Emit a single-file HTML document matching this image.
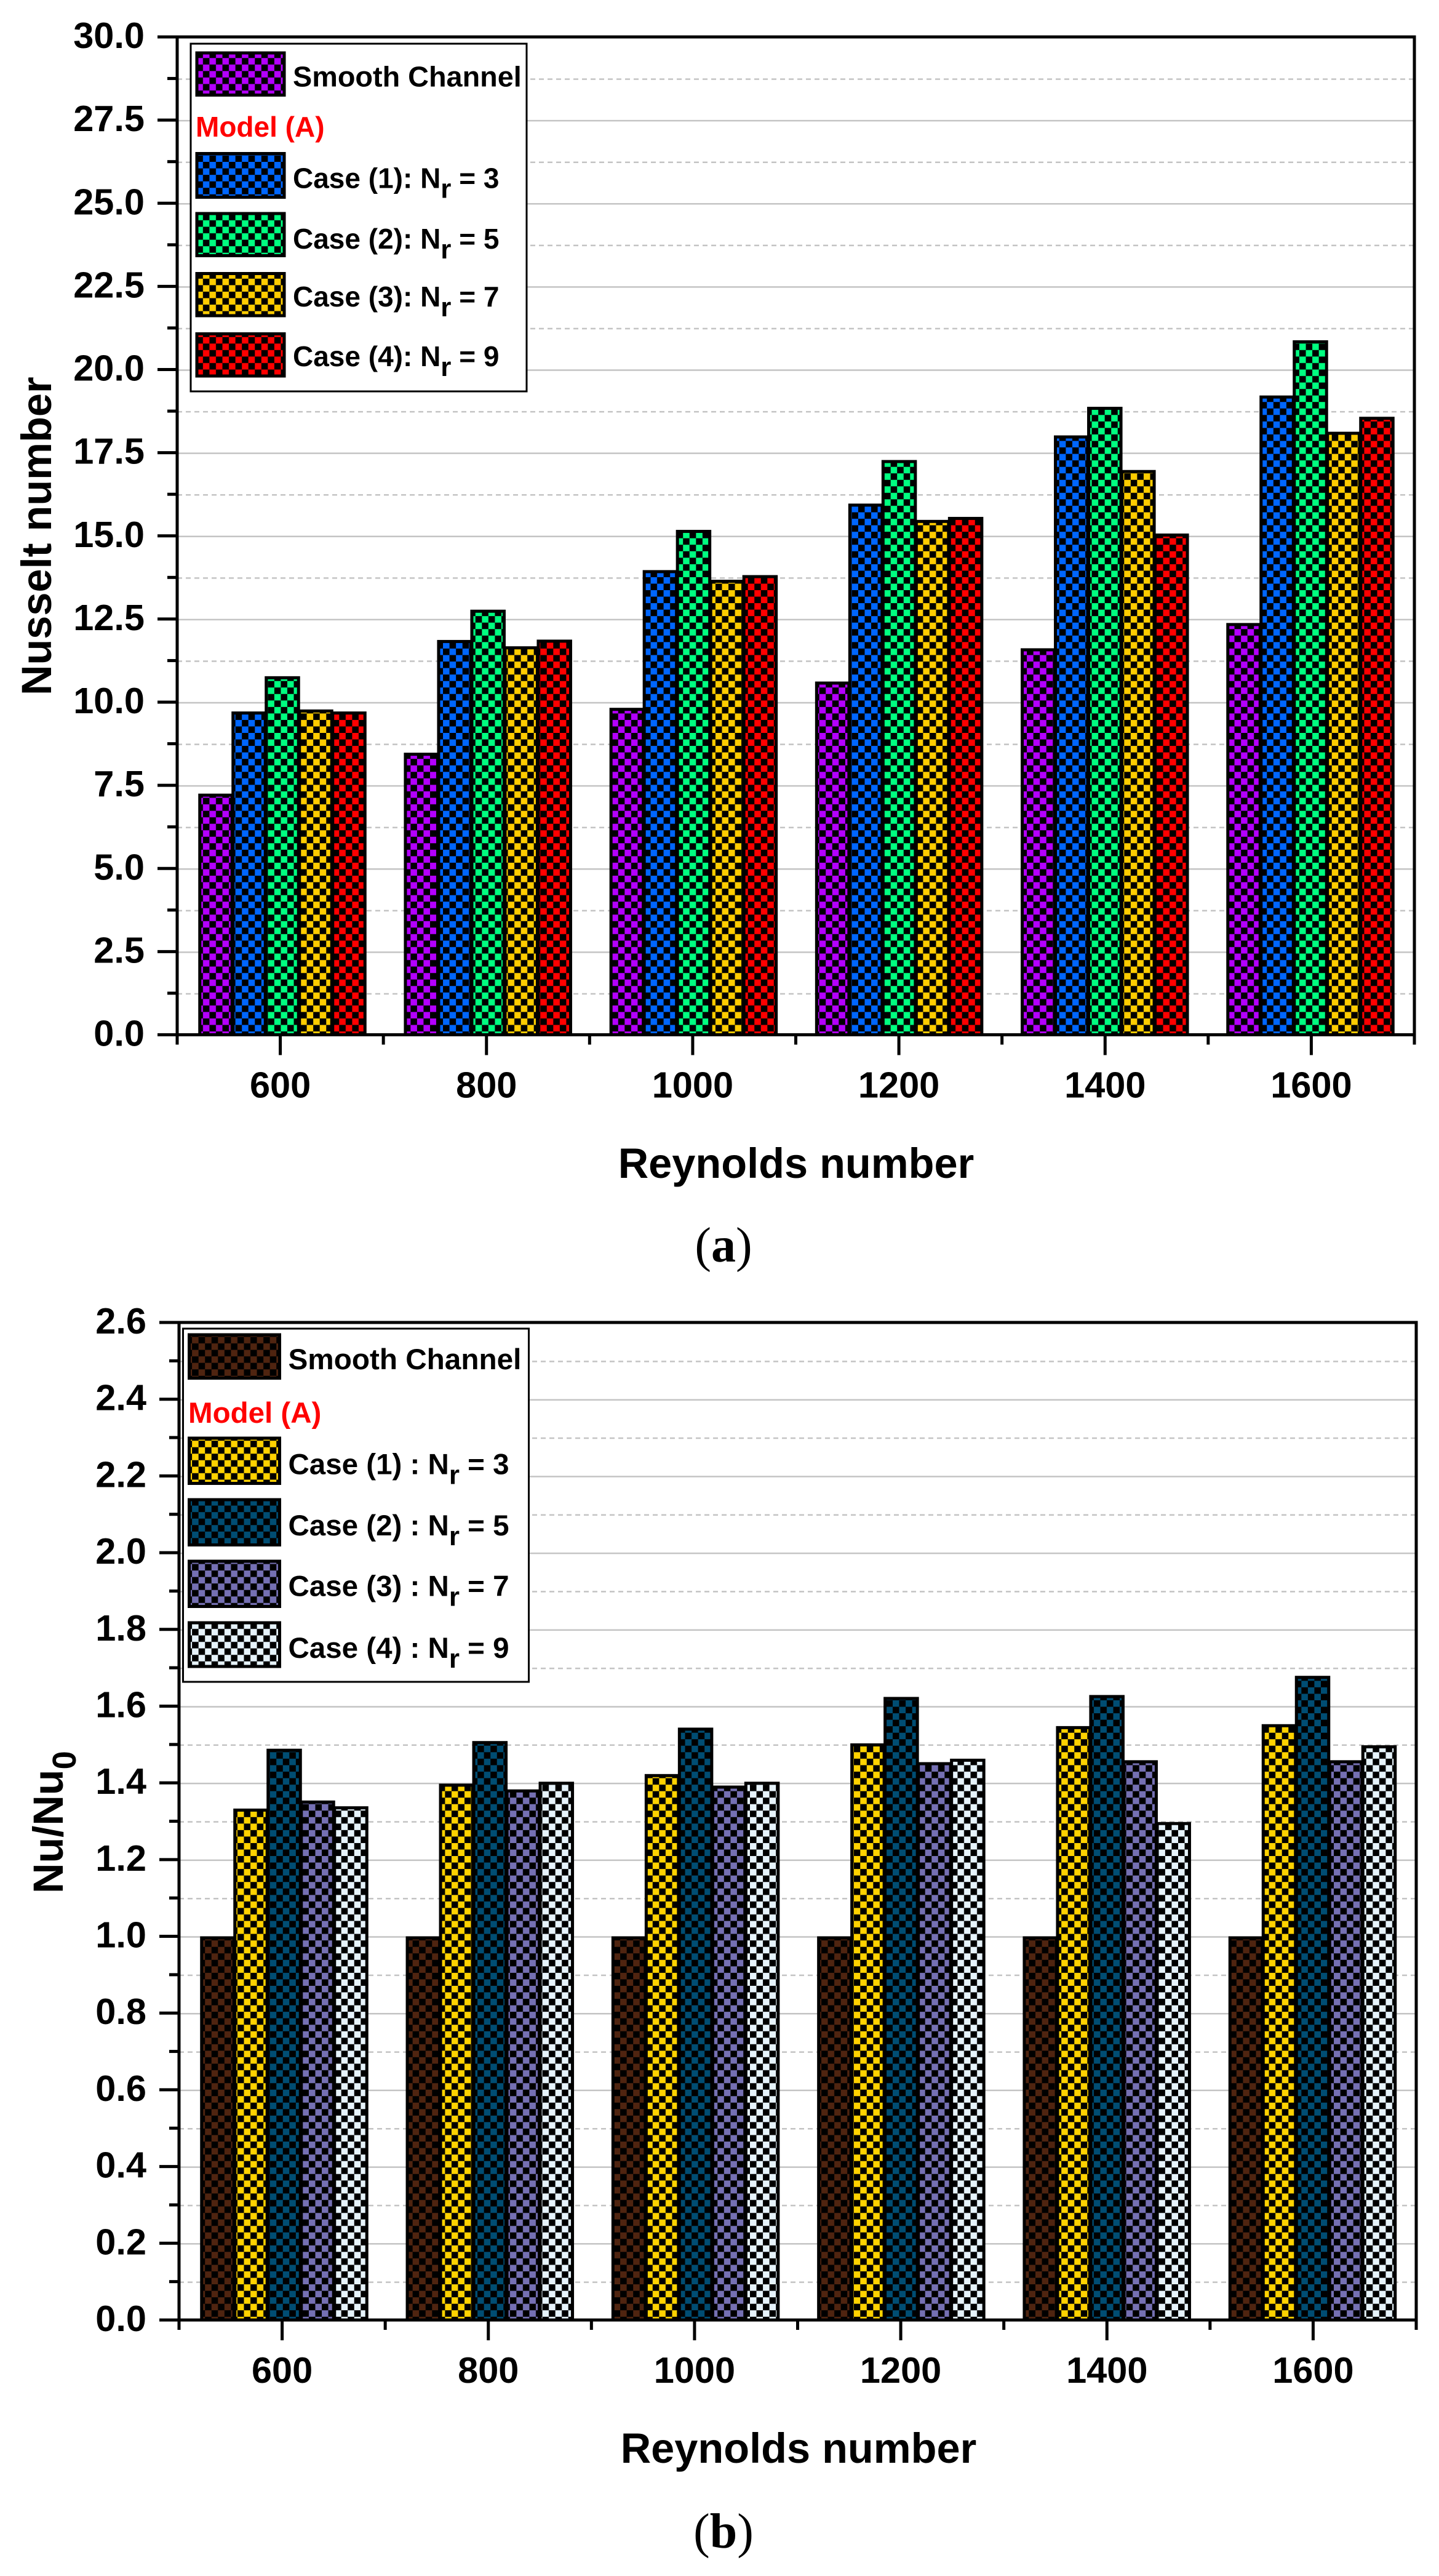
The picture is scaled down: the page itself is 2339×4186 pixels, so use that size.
<!DOCTYPE html>
<html lang="en">
<head>
<meta charset="utf-8">
<title>Nusselt number and Nu/Nu0 versus Reynolds number</title>
<style>
html,body{margin:0;padding:0;background:#fff;}
svg{display:block;}
text{font-family:"Liberation Sans",sans-serif;font-weight:bold;fill:#000;}
.panel-label{font-family:"Liberation Serif",serif;font-weight:normal;font-size:80px;}
.panel-label tspan{font-weight:bold;}
.tick{font-size:59.5px;}
.title{font-size:68.5px;}
</style>
</head>
<body>
<svg id="figure" xmlns="http://www.w3.org/2000/svg" width="2339" height="4186" viewBox="0 0 2339 4186">
  <defs id="defs"></defs>
  <rect width="2339" height="4186" fill="#fff"/>

  <g id="panel-a"></g>
  <g id="panel-b"></g>

  <g>
    <rect x="310" y="71" width="546" height="565" fill="#fff" stroke="#000" stroke-width="3"/>
    <g>
      <rect x="317.5" y="83.5" width="147" height="73.5" fill="#000"/>
      <rect x="322.5" y="88.5" width="137" height="63.5" fill="url(#pat-a-0)"/>
      <text x="476" y="140.5" font-size="46.8">Smooth Channel</text>
    </g>
    <text x="318" y="222" font-size="46" style="fill:#ff0000">Model (A)</text>
    <g>
      <rect x="317.5" y="247" width="147" height="76" fill="#000"/>
      <rect x="322.5" y="252" width="137" height="66" fill="url(#pat-a-1)"/>
      <text x="476" y="305.5" font-size="46">Case (1): N<tspan dy="16" font-size="44">r</tspan><tspan dy="-16"> = 3</tspan></text>
    </g>
    <g>
      <rect x="317.5" y="344.5" width="147" height="73.5" fill="#000"/>
      <rect x="322.5" y="349.5" width="137" height="63.5" fill="url(#pat-a-2)"/>
      <text x="476" y="404" font-size="46">Case (2): N<tspan dy="16" font-size="44">r</tspan><tspan dy="-16"> = 5</tspan></text>
    </g>
    <g>
      <rect x="317.5" y="442" width="147" height="73.5" fill="#000"/>
      <rect x="322.5" y="447" width="137" height="63.5" fill="url(#pat-a-3)"/>
      <text x="476" y="498" font-size="46">Case (3): N<tspan dy="16" font-size="44">r</tspan><tspan dy="-16"> = 7</tspan></text>
    </g>
    <g>
      <rect x="317.5" y="540" width="147" height="73.5" fill="#000"/>
      <rect x="322.5" y="545" width="137" height="63.5" fill="url(#pat-a-4)"/>
      <text x="476" y="595" font-size="46">Case (4): N<tspan dy="16" font-size="44">r</tspan><tspan dy="-16"> = 9</tspan></text>
    </g>
  </g>

  <g>
    <rect x="297.5" y="2159" width="562" height="574" fill="#fff" stroke="#000" stroke-width="3"/>
    <g>
      <rect x="305" y="2166.5" width="152" height="75.5" fill="#000"/>
      <rect x="310" y="2171.5" width="142" height="65.5" fill="url(#pat-b-0)"/>
      <text x="468.5" y="2225" font-size="47.7">Smooth Channel</text>
    </g>
    <text x="306" y="2312" font-size="47.5" style="fill:#ff0000">Model (A)</text>
    <g>
      <rect x="305" y="2334.5" width="152" height="78.5" fill="#000"/>
      <rect x="310" y="2339.5" width="142" height="68.5" fill="url(#pat-b-1)"/>
      <text x="468.5" y="2395.5" font-size="47.5">Case (1) : N<tspan dy="16" font-size="44">r</tspan><tspan dy="-16"> = 3</tspan></text>
    </g>
    <g>
      <rect x="305" y="2434.5" width="152" height="78.5" fill="#000"/>
      <rect x="310" y="2439.5" width="142" height="68.5" fill="url(#pat-b-2)"/>
      <text x="468.5" y="2495" font-size="47.5">Case (2) : N<tspan dy="16" font-size="44">r</tspan><tspan dy="-16"> = 5</tspan></text>
    </g>
    <g>
      <rect x="305" y="2534.5" width="152" height="78.5" fill="#000"/>
      <rect x="310" y="2539.5" width="142" height="68.5" fill="url(#pat-b-3)"/>
      <text x="468.5" y="2593.5" font-size="47.5">Case (3) : N<tspan dy="16" font-size="44">r</tspan><tspan dy="-16"> = 7</tspan></text>
    </g>
    <g>
      <rect x="305" y="2634.5" width="152" height="76" fill="#000"/>
      <rect x="310" y="2639.5" width="142" height="66" fill="url(#pat-b-4)"/>
      <text x="468.5" y="2694" font-size="47.5">Case (4) : N<tspan dy="16" font-size="44">r</tspan><tspan dy="-16"> = 9</tspan></text>
    </g>
  </g>

  <text class="title" transform="translate(83 1130) rotate(-90)">Nusselt number</text>
  <text class="title" x="1294" y="1914" text-anchor="middle">Reynolds number</text>
  <text class="panel-label" x="1176" y="2050" text-anchor="middle">(<tspan>a</tspan>)</text>

  <text class="title" transform="translate(102 3077) rotate(-90)">Nu/Nu<tspan dy="21" font-size="54">0</tspan></text>
  <text class="title" x="1298" y="4002" text-anchor="middle">Reynolds number</text>
  <text class="panel-label" x="1176" y="4140" text-anchor="middle">(<tspan>b</tspan>)</text>
</svg>

<script>
// ---- chart data ----
const reynoldsCategories = [600, 800, 1000, 1200, 1400, 1600];

const nusseltSmooth = [7.25, 8.48, 9.83, 10.62, 11.62, 12.38];
const nusseltCase1 = [9.72, 11.87, 13.97, 15.97, 18.02, 19.22];
const nusseltCase2 = [10.78, 12.78, 15.18, 17.28, 18.88, 20.88];
const nusseltCase3 = [9.78, 11.68, 13.68, 15.48, 16.98, 18.13];
const nusseltCase4 = [9.72, 11.88, 13.82, 15.57, 15.07, 18.58];

const ratioSmooth = [1.0, 1.0, 1.0, 1.0, 1.0, 1.0];
const ratioCase1 = [1.333, 1.398, 1.423, 1.503, 1.548, 1.553];
const ratioCase2 = [1.489, 1.509, 1.544, 1.624, 1.629, 1.679];
const ratioCase3 = [1.354, 1.383, 1.393, 1.454, 1.459, 1.459];
const ratioCase4 = [1.339, 1.403, 1.403, 1.463, 1.298, 1.498];

const nusseltTickLabels = ['0.0', '2.5', '5.0', '7.5', '10.0', '12.5', '15.0', '17.5', '20.0', '22.5', '25.0', '27.5', '30.0'];
const ratioTickLabels = ['0.0', '0.2', '0.4', '0.6', '0.8', '1.0', '1.2', '1.4', '1.6', '1.8', '2.0', '2.2', '2.4', '2.6'];

const seriesNames = ['smooth', 'case-1', 'case-2', 'case-3', 'case-4'];
const nusseltColors = ['#b400ff', '#0066ff', '#00ff80', '#ffcc00', '#ff0000'];
const ratioColors = ['#4f2410', '#ffd200', '#004d73', '#7570b3', '#e6f3fb'];

// ---- layout (not data) ----
const panelA = {
  key: 'a', root: document.getElementById('panel-a'),
  series: [nusseltSmooth, nusseltCase1, nusseltCase2, nusseltCase3, nusseltCase4],
  colors: nusseltColors, tickLabels: nusseltTickLabels,
  left: 288, right: 2299, top: 60, bottom: 1681.5,
  barAt600: 459, barStep: 1.671, patternX: 2112, patternY: 558.3
};
const panelB = {
  key: 'b', root: document.getElementById('panel-b'),
  series: [ratioSmooth, ratioCase1, ratioCase2, ratioCase3, ratioCase4],
  colors: ratioColors, tickLabels: ratioTickLabels,
  left: 291, right: 2302, top: 2149, bottom: 3770,
  barAt600: 462, barStep: 1.6715, patternX: 438.67, patternY: 2847.33
};

const SVG_NS = 'http://www.w3.org/2000/svg';
const CELL = 10.545;
const BAR_PITCH = 54;
const BAR_INNER = 47.5;
const BAR_STROKE = 5;

function shape(tag, parent, props) {
  const el = document.createElementNS(SVG_NS, tag);
  for (const k in props) el.setAttribute(k, props[k]);
  parent.appendChild(el);
  return el;
}

function addPatterns(p) {
  const defs = document.getElementById('defs');
  p.colors.forEach(function (color, i) {
    const pat = shape('pattern', defs, {
      id: 'pat-' + p.key + '-' + i, patternUnits: 'userSpaceOnUse',
      x: p.patternX, y: p.patternY, width: CELL * 2, height: CELL * 2
    });
    shape('rect', pat, { x: 0, y: 0, width: CELL, height: CELL, fill: color });
    shape('rect', pat, { x: CELL, y: CELL, width: CELL, height: CELL, fill: color });
  });
}

function drawPanel(p) {
  const yMax = Number(p.tickLabels[p.tickLabels.length - 1]);
  const yStep = Number(p.tickLabels[1]);
  const yAxis = function (v) { return p.bottom - (v / yMax) * (p.bottom - p.top); };
  const xAxis = function (v) { return p.left + ((v - 500) / 1200) * (p.right - p.left); };
  const barCenter = function (v) { return p.barAt600 + (v - 600) * p.barStep; };

  const grid = shape('g', p.root, {});
  
  
  const bars = shape('g', p.root, {});
  
  
  const axes = shape('g', p.root, {});
  
  

  // grid lines and y ticks
  for (let n = 0; n <= (p.tickLabels.length - 1) * 2; n++) {
    const value = n * yStep / 2;
    const y = yAxis(value);
    const major = n % 2 === 0;
    if (n > 0 && n < (p.tickLabels.length - 1) * 2) {
      const line = shape('line', grid, {
        x1: p.left, x2: p.right, y1: y + 1, y2: y + 1,
        stroke: '#c4c4c4', 'stroke-width': 2.5,
        'stroke-dasharray': major ? 'none' : '8 6'
      });
      
      
    }
    const tick = shape('line', axes, {
      x1: p.left - (major ? 32 : 16), x2: p.left, y1: y, y2: y,
      stroke: '#000', 'stroke-width': 5
    });
    
    
    if (major) {
      const label = shape('text', axes, {
        x: p.left - 53, y: y + 18, 'text-anchor': 'end', class: 'tick'
      });
      label.textContent = p.tickLabels[n / 2];
      
      
    }
  }

  // bars
  reynoldsCategories.forEach(function (category, c) {
    p.series.forEach(function (values, s) {
      const mid = barCenter(category) + (s - 2) * BAR_PITCH;
      const topY = yAxis(values[c]);
      const bar = shape('g', bars, {});
      
      
      shape('rect', bar, {
        x: mid - BAR_INNER / 2 - BAR_STROKE, y: topY,
        width: BAR_INNER + BAR_STROKE * 2, height: p.bottom - topY, fill: '#000'
      });
      shape('rect', bar, {
        x: mid - BAR_INNER / 2, y: topY + BAR_STROKE,
        width: BAR_INNER, height: Math.max(0, p.bottom - topY - BAR_STROKE * 1.5),
        fill: 'url(#pat-' + p.key + '-' + s + ')'
      });
    });
  });

  // frame
  const frameParts = [
    [p.left, p.top - 2.5, p.left, p.bottom + 16],
    [p.right, p.top - 2.5, p.right, p.bottom + 16],
    [p.left, p.top, p.right + 2.5, p.top],
    [p.left, p.bottom, p.right + 2.5, p.bottom]
  ];
  frameParts.forEach(function (f) {
    const line = shape('line', axes, { x1: f[0], y1: f[1], x2: f[2], y2: f[3], stroke: '#000', 'stroke-width': 5 });
    
    
  });

  // x ticks
  reynoldsCategories.forEach(function (category) {
    const x = xAxis(category);
    const tick = shape('line', axes, { x1: x, x2: x, y1: p.bottom, y2: p.bottom + 33, stroke: '#000', 'stroke-width': 5 });
    
    
    const minorX = xAxis(category + 100);
    if (category + 100 < 1700) {
      const minor = shape('line', axes, { x1: minorX, x2: minorX, y1: p.bottom, y2: p.bottom + 16, stroke: '#000', 'stroke-width': 5 });
      
      
    }
    const label = shape('text', axes, { x: x, y: p.bottom + 102, 'text-anchor': 'middle', class: 'tick' });
    label.textContent = String(category);
    
    
  });
}

[panelA, panelB].forEach(function (p) {
  addPatterns(p);
  drawPanel(p);
});
</script>
</body>
</html>
